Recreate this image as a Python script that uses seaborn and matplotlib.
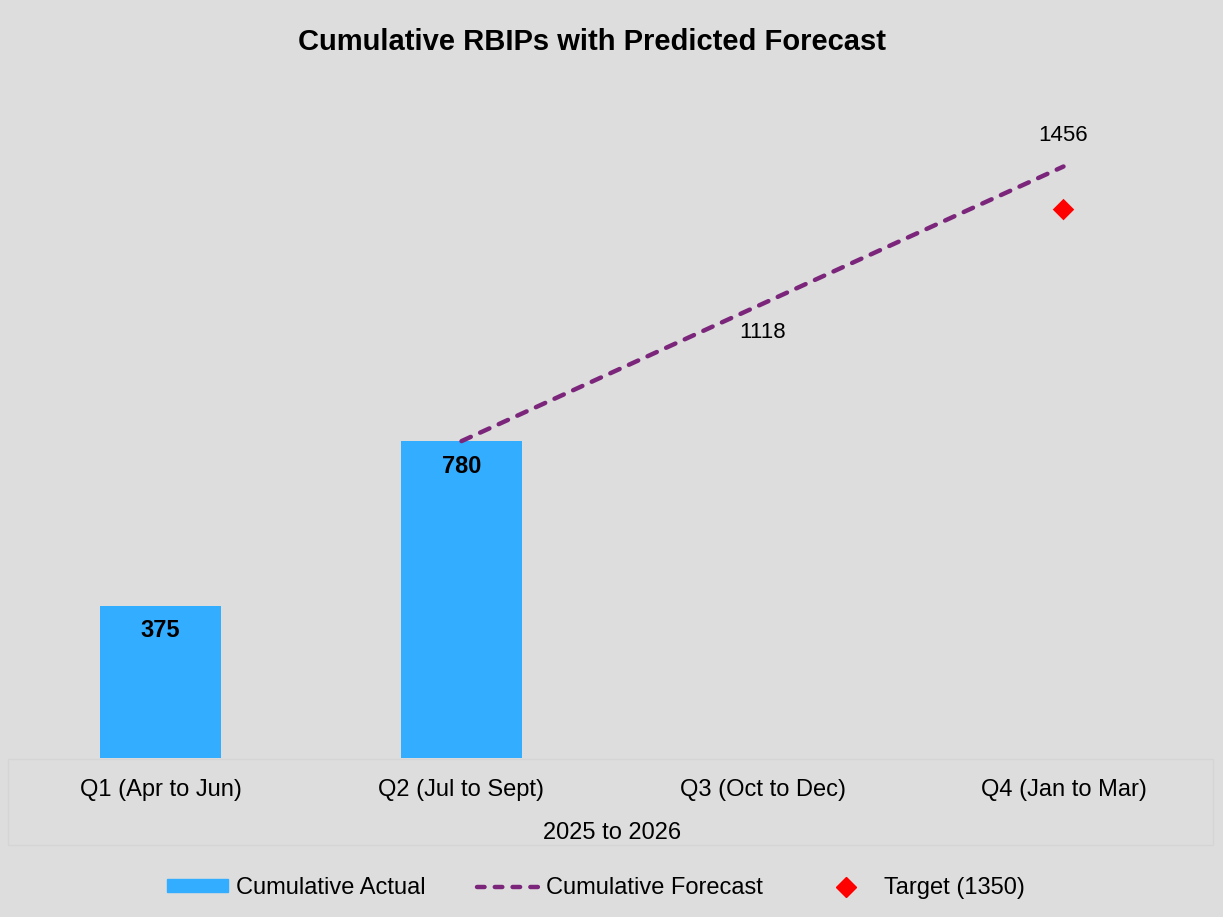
import matplotlib
matplotlib.use("Agg")
import matplotlib.pyplot as plt
import matplotlib.patches as mpatches
import matplotlib.lines as mlines
import seaborn as sns
import pandas as pd

############################################################################
# DATA
############################################################################

quarters = ["Q1 (Apr to Jun)", "Q2 (Jul to Sept)", "Q3 (Oct to Dec)", "Q4 (Jan to Mar)"]
actual_quarters = ["Q1 (Apr to Jun)", "Q2 (Jul to Sept)"]
actual_values = [375, 780]
forecast_quarters = ["Q2 (Jul to Sept)", "Q3 (Oct to Dec)", "Q4 (Jan to Mar)"]
forecast_values = [780, 1118, 1456]
target_quarter = "Q4 (Jan to Mar)"
target_value = 1350

title = "Cumulative RBIPs with Predicted Forecast"
xlabel = "2025 to 2026"

############################################################################

BG = "#DDDDDD"
BAR_COLOR = "#33ADFF"
LINE_COLOR = "#7B267B"
TARGET_COLOR = "#FF0000"
FONT = ["Liberation Sans", "DejaVu Sans"]
DASHES = [2.3, 2.3]
LEGEND_DASHES = [1.7, 2.3]


def main():
	sns.set_theme(style="white")
	plt.rcParams["font.family"] = FONT
	plt.rcParams["text.color"] = "black"
	plt.rcParams["xtick.color"] = "black"
	plt.rcParams["axes.labelcolor"] = "black"

	fig = plt.figure(figsize=(12.23, 9.17), dpi=100, facecolor=BG)
	ax = fig.add_axes([10 / 1223, 159 / 917, 1204 / 1223, 650 / 917])
	ax.set_facecolor(BG)

	actual_df = pd.DataFrame({"quarter": actual_quarters, "value": actual_values})
	forecast_df = pd.DataFrame({"pos": [quarters.index(q) for q in forecast_quarters],
								"value": forecast_values})
	target_df = pd.DataFrame({"pos": [quarters.index(target_quarter)], "value": [target_value]})

	sns.barplot(data=actual_df, x="quarter", y="value", order=quarters,
				color=BAR_COLOR, saturation=1, width=0.4, linewidth=0, ax=ax)
	sns.lineplot(data=forecast_df, x="pos", y="value", color=LINE_COLOR,
				 linewidth=3.2, ax=ax)
	ax.lines[-1].set_dashes(DASHES)
	ax.lines[-1].set_dash_capstyle("round")
	sns.scatterplot(data=target_df, x="pos", y="value", color=TARGET_COLOR,
					marker="D", s=120, edgecolor="none", ax=ax, zorder=5)

	# data labels
	for q, v in zip(actual_quarters, actual_values):
		ax.annotate(str(v), (quarters.index(q), v), xytext=(0, -18),
					textcoords="offset points", ha="center", va="center",
					fontsize=17, fontweight="bold")
	ax.annotate(str(forecast_values[1]), (quarters.index(forecast_quarters[1]), forecast_values[1]),
				xytext=(0, -21), textcoords="offset points", ha="center", va="center",
				fontsize=16)
	ax.annotate(str(forecast_values[2]), (quarters.index(forecast_quarters[2]), forecast_values[2]),
				xytext=(0, 22), textcoords="offset points", ha="center", va="center",
				fontsize=16)

	ax.set_xlim(-0.5, 3.5)
	ax.set_ylim(0, 1600)
	ax.set_yticks([])
	ax.set_ylabel("")
	ax.set_xlabel(xlabel, fontsize=17, labelpad=15)
	ax.tick_params(axis="x", length=0, labelsize=17, pad=15)
	for s in ax.spines.values():
		s.set_visible(False)

	# faint category table box under the axis
	box = mpatches.Rectangle((8 / 1223, (917 - 845) / 917), 1205 / 1223, 86 / 917,
							 transform=fig.transFigure, fill=False,
							 edgecolor="#D5D5D5", linewidth=1)
	fig.patches.append(box)

	fig.text(0.4837, 1 - 42 / 917, title, ha="center", va="center",
			 fontsize=21, fontweight="bold")

	fc_handle = mlines.Line2D([], [], color=LINE_COLOR, linewidth=3.2, dashes=LEGEND_DASHES,
							  label="Cumulative Forecast")
	fc_handle.set_dash_capstyle("round")
	handles = [
		mpatches.Patch(color=BAR_COLOR, label="Cumulative Actual"),
		fc_handle,
		mlines.Line2D([], [], color=TARGET_COLOR, marker="D", linestyle="none",
					  markersize=10, label="Target (1350)"),
	]
	fig.legend(handles=handles, loc="center", bbox_to_anchor=(0.4873, 1 - 888 / 917),
			   ncol=3, frameon=False, fontsize=17, handlelength=2.6, handleheight=0.45,
			   columnspacing=2.2, handletextpad=0.33)

	fig.savefig("out.png", dpi=100, facecolor=BG)


if __name__ == "__main__":
	main()
